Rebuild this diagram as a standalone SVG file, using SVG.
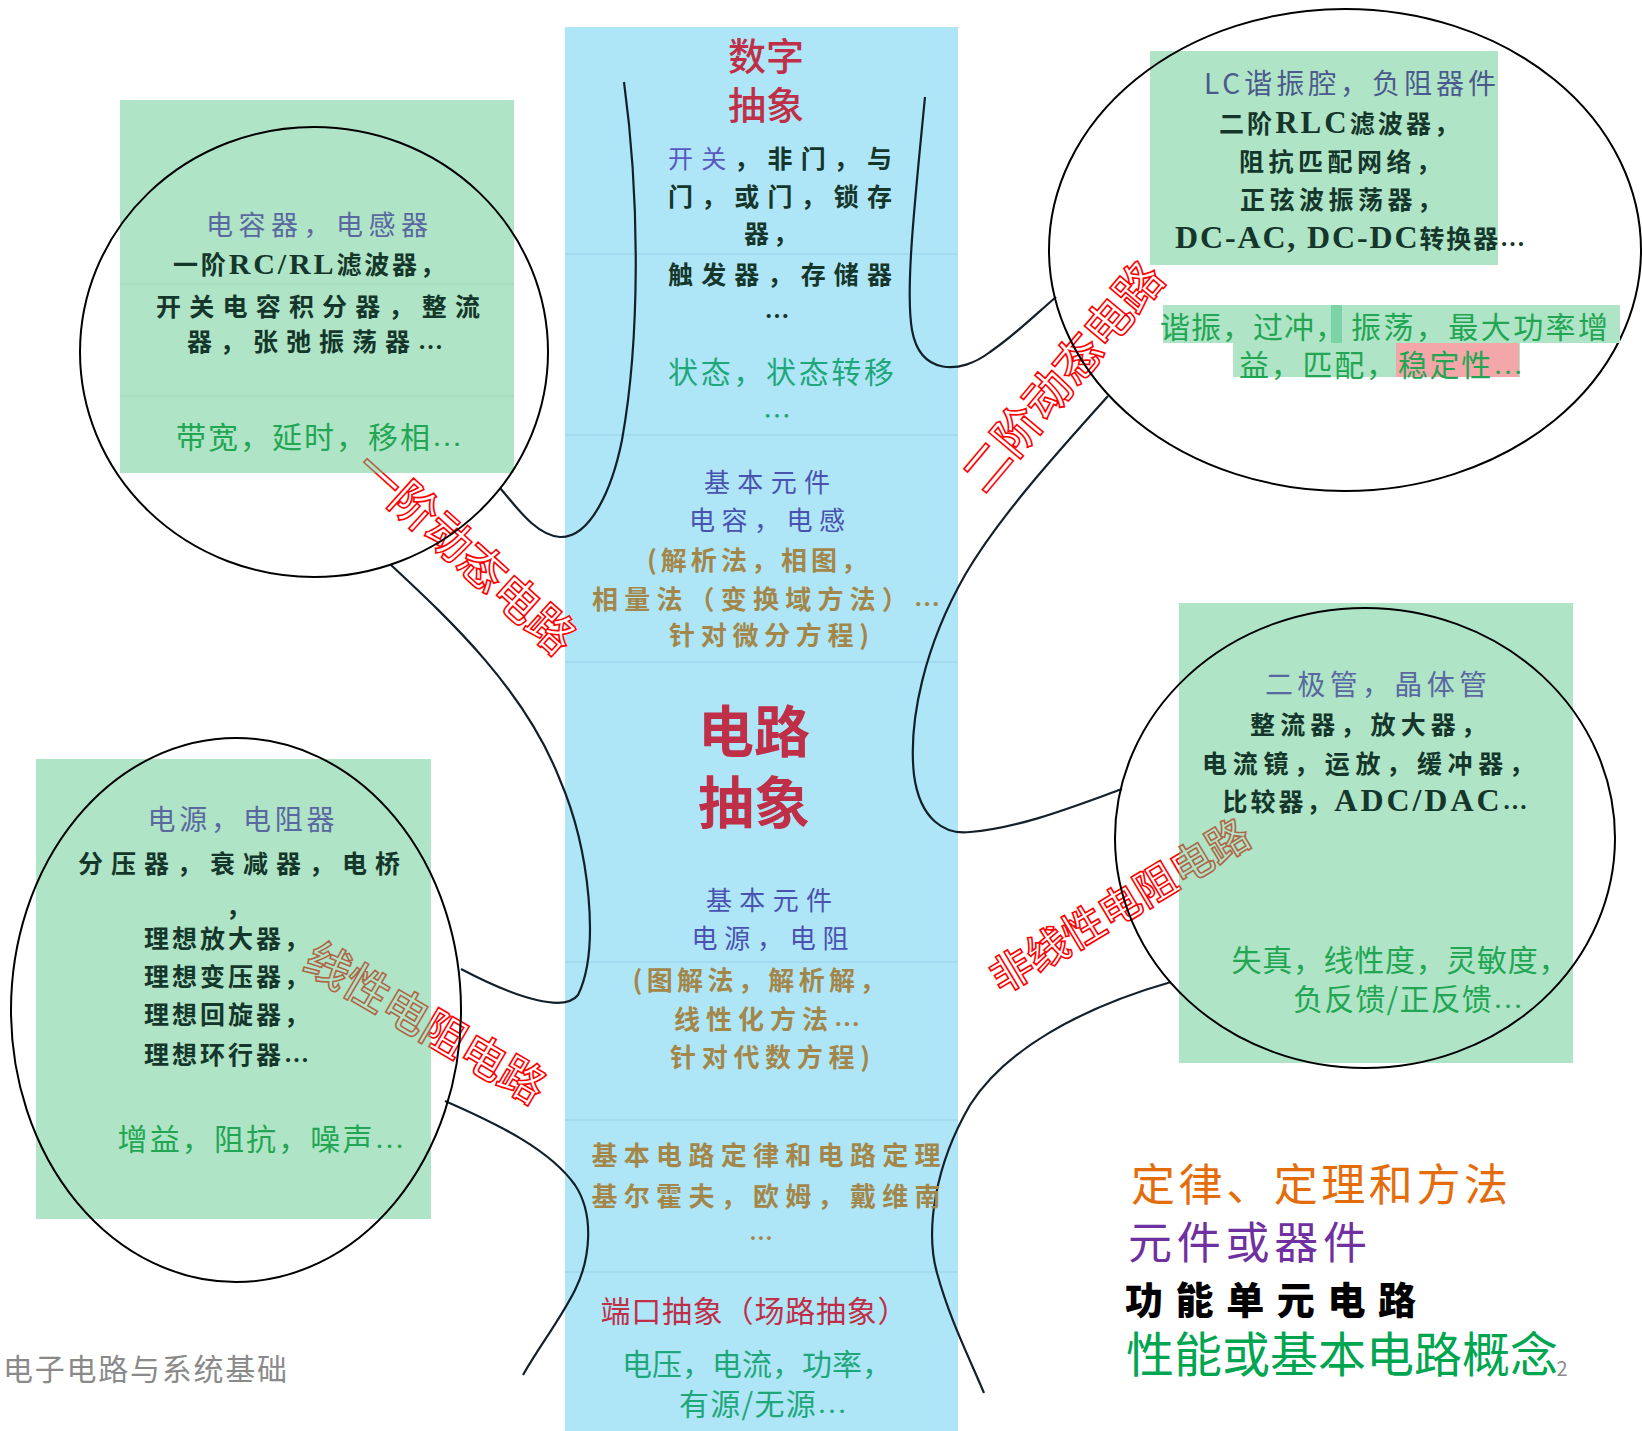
<svg xmlns="http://www.w3.org/2000/svg" width="1642" height="1431" viewBox="0 0 1642 1431">
<style>
.col{fill:#AEE6F8}
.sep{stroke:#9ED7EE;stroke-width:1.5}
.box{fill:#5FC98D;fill-opacity:0.5}
.bsep{stroke:#9CD7B5;stroke-width:1}
.ell{fill:none;stroke:#000;stroke-width:2}
.con{fill:none;stroke:#13202a;stroke-width:2.2}
.tag{font-family:"Noto Sans CJK SC",sans-serif;font-weight:500;fill:#fff;stroke:#FF0000;stroke-width:1.6;text-anchor:middle;dominant-baseline:central}
text.t{font-family:"Noto Sans CJK SC",sans-serif;text-anchor:middle;dominant-baseline:central}
.crim{fill:#BF2F47}
.slate{fill:#5A68A0}
.blue{fill:#4A52B0}
.pb{fill:#5858C0;font-weight:400}
.dk{fill:#15372B;font-weight:700}
.tan{fill:#A3874A;font-weight:700}
.gr{fill:#22A653}
.tl{fill:#1FA77A}
.lat{font-family:"Liberation Serif",serif;font-weight:700}
.dots{font-family:"Liberation Serif",serif}
</style>

<!-- central column -->
<g id="column">
<rect class="col" x="565" y="27" width="393" height="1404"/>
<line class="sep" x1="565" y1="254" x2="958" y2="254"/>
<line class="sep" x1="565" y1="435" x2="958" y2="435"/>
<line class="sep" x1="565" y1="662" x2="958" y2="662"/>
<line class="sep" x1="565" y1="962" x2="958" y2="962"/>
<line class="sep" x1="565" y1="1120" x2="958" y2="1120"/>
<line class="sep" x1="565" y1="1272" x2="958" y2="1272"/>
</g>

<!-- connectors -->
<g id="connectors">
<path class="con" d="M 500 488 C 515 505, 535 535, 560 537 C 590 538, 612 490, 622 440 C 640 340, 640 200, 624 82"/>
<path class="con" d="M 925 97 C 915 200, 905 290, 912 330 C 920 375, 960 375, 990 352 C 1015 335, 1035 315, 1056 297"/>
<path class="con" d="M 1108 396 C 1060 450, 1000 515, 965 575 C 925 645, 908 720, 914 775 C 920 820, 945 835, 970 832 C 1020 828, 1075 806, 1122 789"/>
<path class="con" d="M 391 565 C 450 620, 525 690, 560 780 C 590 850, 600 950, 578 995 C 565 1012, 520 1000, 461 969"/>
<path class="con" d="M 445 1101 C 500 1125, 550 1150, 575 1185 C 595 1215, 590 1260, 575 1290 C 560 1320, 540 1345, 523 1375"/>
<path class="con" d="M 1171 982 C 1080 1008, 1005 1050, 970 1105 C 935 1165, 925 1230, 937 1273 C 950 1320, 968 1355, 984 1393"/>
</g>

<!-- red outlined category labels -->
<g id="labels">
<text class="tag" font-size="46" transform="translate(468 550) rotate(42)">一阶动态电路</text>
<text class="tag" font-size="47" transform="translate(1060 374) rotate(-50)">二阶动态电路</text>
<text class="tag" font-size="45" transform="translate(427 1020) rotate(30.5)">线性电阻电路</text>
<text class="tag" font-size="42" transform="translate(1118 903) rotate(-31)">非线性电阻电路</text>
</g>

<!-- node: first order dynamic -->
<g id="node-first-order">
<rect class="box" x="120" y="100" width="394" height="373"/>
<line class="bsep" x1="120" y1="284" x2="514" y2="284"/>
<line class="bsep" x1="120" y1="396" x2="514" y2="396"/>
<ellipse class="ell" cx="314" cy="352" rx="234" ry="225"/>
<text class="t slate" x="317" y="223" font-size="27" textLength="222" lengthAdjust="spacing">电容器，电感器</text>
<text class="t dk" x="309" y="263" font-size="25" textLength="272" lengthAdjust="spacing">一阶<tspan class="lat" font-size="30">RC/RL</tspan>滤波器，</text>
<text class="t dk" x="318" y="305" font-size="25" textLength="324" lengthAdjust="spacing">开关电容积分器，整流</text>
<text class="t dk" x="315" y="340" font-size="25" textLength="256" lengthAdjust="spacing">器，张弛振荡器<tspan class="dots">…</tspan></text>
<text class="t gr" x="319" y="435" font-size="30" textLength="286" lengthAdjust="spacing">带宽，延时，移相<tspan class="dots">…</tspan></text>
</g>

<!-- node: second order dynamic -->
<g id="node-second-order">
<rect class="box" x="1150" y="51" width="348" height="214"/>
<ellipse class="ell" cx="1345" cy="250" rx="296" ry="241"/>
<rect x="1163" y="305" width="457" height="38" fill="#AFE4C6"/>
<rect x="1331" y="305" width="11" height="38" fill="#7BD3A6"/>
<rect x="1233" y="343" width="287" height="34" fill="#AFE4C6"/>
<rect x="1396" y="343" width="123" height="34" fill="#F4A7A8"/>
<text class="t" x="1350" y="82" font-size="28" fill="#4B5A8C" textLength="292" lengthAdjust="spacing">LC谐振腔，负阻器件</text>
<text class="t dk" x="1339" y="122" font-size="25" textLength="240" lengthAdjust="spacing">二阶<tspan class="lat" font-size="31">RLC</tspan>滤波器，</text>
<text class="t dk" x="1340" y="160" font-size="25" textLength="202" lengthAdjust="spacing">阻抗匹配网络，</text>
<text class="t dk" x="1341" y="198" font-size="25" textLength="202" lengthAdjust="spacing">正弦波振荡器，</text>
<text class="t dk" x="1350" y="237" font-size="25" textLength="350" lengthAdjust="spacing"><tspan class="lat" font-size="32">DC-AC, DC-DC</tspan>转换器<tspan class="dots">…</tspan></text>
<text class="t gr" x="1160" y="325" font-size="30" style="text-anchor:start" letter-spacing="1">谐振，过冲，</text>
<text class="t gr" x="1351" y="325" font-size="30" style="text-anchor:start" textLength="257" lengthAdjust="spacing">振荡，最大功率增</text>
<text class="t gr" x="1381" y="363" font-size="30" textLength="284" lengthAdjust="spacing">益，匹配，稳定性<tspan class="dots">…</tspan></text>
</g>

<!-- node: nonlinear resistive -->
<g id="node-nonlinear">
<rect class="box" x="1179" y="603" width="394" height="460"/>
<ellipse class="ell" cx="1365" cy="838" rx="250" ry="230"/>
<text class="t" x="1376" y="683" font-size="28" fill="#5A68A0" textLength="222" lengthAdjust="spacing">二极管，晶体管</text>
<text class="t dk" x="1368" y="723" font-size="25" textLength="236" lengthAdjust="spacing">整流器，放大器，</text>
<text class="t dk" x="1368" y="762" font-size="25" textLength="332" lengthAdjust="spacing">电流镜，运放，缓冲器，</text>
<text class="t dk" x="1375" y="800" font-size="25" textLength="305" lengthAdjust="spacing">比较器，<tspan class="lat" font-size="32">ADC/DAC</tspan><tspan class="dots">…</tspan></text>
<text class="t gr" x="1400" y="958" font-size="30" textLength="337" lengthAdjust="spacing">失真，线性度，灵敏度，</text>
<text class="t gr" x="1408" y="997" font-size="30" textLength="230" lengthAdjust="spacing">负反馈/正反馈<tspan class="dots">…</tspan></text>
</g>

<!-- node: linear resistive -->
<g id="node-linear">
<rect class="box" x="36" y="759" width="395" height="460"/>
<ellipse class="ell" cx="236" cy="1010" rx="225" ry="272"/>
<text class="t" x="241" y="818" font-size="28" fill="#5A68A0" textLength="187" lengthAdjust="spacing">电源，电阻器</text>
<text class="t dk" x="239" y="862" font-size="25" textLength="322" lengthAdjust="spacing">分压器，衰减器，电桥</text>
<text class="t dk" x="226" y="905" font-size="25" style="text-anchor:start">，</text>
<text class="t dk" x="144" y="937" font-size="25" style="text-anchor:start" letter-spacing="3">理想放大器，</text>
<text class="t dk" x="144" y="975" font-size="25" style="text-anchor:start" letter-spacing="3">理想变压器，</text>
<text class="t dk" x="144" y="1013" font-size="25" style="text-anchor:start" letter-spacing="3">理想回旋器，</text>
<text class="t dk" x="144" y="1053" font-size="25" style="text-anchor:start" letter-spacing="3">理想环行器<tspan class="dots">…</tspan></text>
<text class="t gr" x="261" y="1137" font-size="30" textLength="287" lengthAdjust="spacing">增益，阻抗，噪声<tspan class="dots">…</tspan></text>
</g>

<!-- central column texts -->
<g id="node-digital">
<text class="t crim" x="766" y="53" font-size="38" font-weight="500">数字</text>
<text class="t crim" x="766" y="102" font-size="38" font-weight="500">抽象</text>
<text class="t dk" x="780" y="157" font-size="25" textLength="224" lengthAdjust="spacing"><tspan class="pb">开关</tspan>，非门，与</text>
<text class="t dk" x="780" y="195" font-size="25" textLength="224" lengthAdjust="spacing">门，或门，锁存</text>
<text class="t dk" x="773" y="232" font-size="25" letter-spacing="4">器，</text>
<text class="t dk" x="780" y="273" font-size="25" textLength="224" lengthAdjust="spacing">触发器，存储器</text>
<text class="t dk" x="777" y="315" font-size="25">…</text>
<text class="t tl" x="781" y="370" font-size="30" textLength="226" lengthAdjust="spacing">状态，状态转移</text>
<text class="t tl" x="777" y="415" font-size="28">…</text>
</g>

<g id="node-dynamic-elements">
<text class="t blue" x="767" y="480" font-size="26" textLength="126" lengthAdjust="spacing">基本元件</text>
<text class="t blue" x="767" y="518" font-size="26" textLength="156" lengthAdjust="spacing">电容，电感</text>
<text class="t tan" x="757" y="558" font-size="26" textLength="220" lengthAdjust="spacing">(解析法，相图，</text>
<text class="t tan" x="766" y="597" font-size="26" textLength="348" lengthAdjust="spacing">相量法（变换域方法）<tspan class="dots">…</tspan></text>
<text class="t tan" x="769" y="633" font-size="26" textLength="200" lengthAdjust="spacing">针对微分方程)</text>
</g>

<g id="node-circuit">
<text class="t crim" x="754" y="727" font-size="56" font-weight="700">电路</text>
<text class="t crim" x="754" y="798" font-size="56" font-weight="700">抽象</text>
</g>

<g id="node-resistive-elements">
<text class="t blue" x="769" y="898" font-size="26" textLength="126" lengthAdjust="spacing">基本元件</text>
<text class="t blue" x="770" y="936" font-size="26" textLength="157" lengthAdjust="spacing">电源，电阻</text>
<text class="t tan" x="759" y="978" font-size="26" textLength="253" lengthAdjust="spacing">(图解法，解析解，</text>
<text class="t tan" x="767" y="1017" font-size="26" textLength="186" lengthAdjust="spacing">线性化方法<tspan class="dots">…</tspan></text>
<text class="t tan" x="770" y="1055" font-size="26" textLength="200" lengthAdjust="spacing">针对代数方程)</text>
</g>

<g id="node-laws">
<text class="t tan" x="766" y="1153" font-size="26" textLength="349" lengthAdjust="spacing">基本电路定律和电路定理</text>
<text class="t tan" x="766" y="1194" font-size="26" textLength="349" lengthAdjust="spacing">基尔霍夫，欧姆，戴维南</text>
<text class="t tan" x="761" y="1236" font-size="24">…</text>
</g>

<g id="node-port">
<text class="t crim" x="754" y="1309" font-size="30" textLength="307" lengthAdjust="spacing">端口抽象（场路抽象）</text>
<text class="t tl" x="757" y="1362" font-size="30" textLength="270" lengthAdjust="spacing">电压，电流，功率，</text>
<text class="t tl" x="763" y="1402" font-size="30" textLength="168" lengthAdjust="spacing">有源/无源<tspan class="dots">…</tspan></text>
</g>

<!-- legend -->
<g id="legend">
<text class="t" x="1131" y="1182" font-size="44" fill="#E46C0A" style="text-anchor:start" textLength="377" lengthAdjust="spacing">定律、定理和方法</text>
<text class="t" x="1128" y="1240" font-size="44" fill="#7030A0" style="text-anchor:start" textLength="239" lengthAdjust="spacing">元件或器件</text>
<text class="t" x="1125" y="1297" font-size="38" fill="#000" font-weight="900" style="text-anchor:start" textLength="291" lengthAdjust="spacing">功能单元电路</text>
<text class="t" x="1126" y="1351" font-size="48" fill="#00A550" style="text-anchor:start" textLength="432" lengthAdjust="spacing">性能或基本电路概念</text>
<text class="t" x="1562" y="1367" font-size="20" fill="#8C8C8C">2</text>
</g>

<g id="footer">
<text class="t" x="3" y="1367" font-size="30" fill="#8A8A8A" style="text-anchor:start" textLength="284" lengthAdjust="spacing">电子电路与系统基础</text>
</g>
</svg>
